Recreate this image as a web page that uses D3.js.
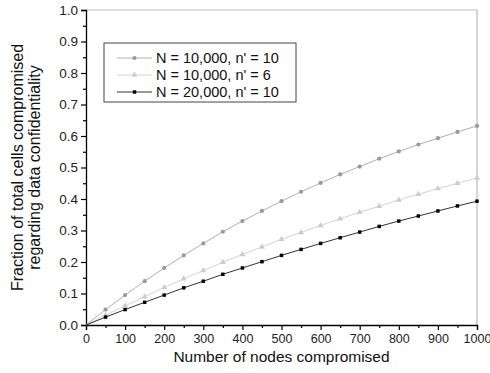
<!DOCTYPE html>
<html>
<head>
<meta charset="utf-8">
<script src="https://cdn.jsdelivr.net/npm/d3@7"></script>
<style>
  body { margin: 0; background: #fff; }
  svg { font-family: "Liberation Sans", Arial, sans-serif; }
</style>
</head>
<body>
<div id="chart"></div>
<script>
const nodes = [0, 50, 100, 150, 200, 250, 300, 350, 400, 450, 500, 550, 600, 650, 700, 750, 800, 850, 900, 950, 1000]
const seriesA = [0, 0.049, 0.095, 0.139, 0.181, 0.221, 0.259, 0.296, 0.330, 0.362, 0.393, 0.423, 0.451, 0.478, 0.503, 0.528, 0.551, 0.573, 0.593, 0.613, 0.632]
const seriesB = [0, 0.031, 0.061, 0.090, 0.119, 0.147, 0.173, 0.199, 0.224, 0.248, 0.272, 0.294, 0.316, 0.337, 0.358, 0.377, 0.397, 0.415, 0.433, 0.450, 0.467]
const seriesC = [0, 0.025, 0.049, 0.072, 0.095, 0.118, 0.139, 0.161, 0.181, 0.201, 0.221, 0.240, 0.259, 0.277, 0.295, 0.313, 0.330, 0.346, 0.362, 0.378, 0.393]
const labels = ["N = 10,000, n' = 10", "N = 10,000, n' = 6", "N = 20,000, n' = 10"]
const xTicks = [0, 100, 200, 300, 400, 500, 600, 700, 800, 900, 1000]
const yTicks = [0, 0.1, 0.2, 0.3, 0.4, 0.5, 0.6, 0.7, 0.8, 0.9, 1.0]

const W = 490, H = 373
const margin = { top: 10, right: 13, bottom: 48, left: 86 }
const width = W - margin.left - margin.right
const height = H - margin.top - margin.bottom

const svg = d3.select('#chart').append('svg')
    .attr('width', W)
    .attr('height', H)

const g = svg.append('g')
    .attr('transform', 'translate(' + margin.left + ',' + margin.top + ')')

const x = d3.scaleLinear().domain([0, 1000]).range([0, width])
const y = d3.scaleLinear().domain([0, 1]).range([height, 0])

// frame top/right
g.append('line').attr('x1', 0).attr('x2', width).attr('y1', 0).attr('y2', 0)
    .attr('stroke', '#bbb').attr('stroke-width', 1.2)
g.append('line').attr('x1', width).attr('x2', width).attr('y1', 0).attr('y2', height)
    .attr('stroke', '#bbb').attr('stroke-width', 1.2)

// minor ticks
const xMinor = d3.range(50, 1000, 100)
const yMinor = d3.range(0.05, 1, 0.1)

const xAxis = g.append('g')
    .attr('transform', 'translate(0,' + height + ')')
    .call(d3.axisBottom(x).tickValues(xTicks).tickFormat(d3.format('d')).tickSize(5).tickPadding(4))
g.append('g')
    .attr('transform', 'translate(0,' + height + ')')
    .call(d3.axisBottom(x).tickValues(xMinor).tickFormat('').tickSize(3))
    .select('.domain').remove()

const yAxis = g.append('g')
    .call(d3.axisLeft(y).tickValues(yTicks).tickFormat(d3.format('.1f')).tickSize(5).tickPadding(3))
g.append('g')
    .call(d3.axisLeft(y).tickValues(yMinor).tickFormat('').tickSize(3))
    .select('.domain').remove()

g.selectAll('.domain').attr('stroke', '#000').attr('stroke-width', 1.3)
g.selectAll('.tick line').attr('stroke', '#000').attr('stroke-width', 1.2)
g.selectAll('.tick text').attr('fill', '#222')
    .style('font-family', '"Liberation Sans", Arial, sans-serif')
xAxis.selectAll('.tick text').attr('font-size', 12.5)
yAxis.selectAll('.tick text').attr('font-size', 13.5)

const series = [
    { name: labels[0], values: seriesA, line: '#b0b0b0', fill: '#9a9a9a', shape: d3.symbolCircle, size: 14 },
    { name: labels[1], values: seriesB, line: '#d4d4d4', fill: '#cccccc', shape: d3.symbolTriangle, size: 16 },
    { name: labels[2], values: seriesC, line: '#333', fill: '#000', shape: d3.symbolSquare, size: 12 }
]

const line = d3.line()
    .x((d, i) => x(nodes[i]))
    .y(d => y(d))

series.forEach(s => {
    g.append('path')
        .datum(s.values)
        .attr('d', line)
        .attr('fill', 'none')
        .attr('stroke', s.line)
        .attr('stroke-width', 1)
    g.selectAll(null)
        .data(s.values.slice(1))
        .join('path')
        .attr('transform', (d, i) => 'translate(' + x(nodes[i + 1]) + ',' + y(d) + ')')
        .attr('d', d3.symbol().type(s.shape).size(s.size))
        .attr('fill', s.fill)
})

// legend
const legend = svg.append('g').attr('transform', 'translate(104,43)')
legend.append('rect')
    .attr('width', 192).attr('height', 59)
    .attr('fill', '#fff').attr('stroke', '#444').attr('stroke-width', 1)
series.forEach((s, i) => {
    const ly = 15 + i * 17
    legend.append('line').attr('x1', 13).attr('x2', 48).attr('y1', ly).attr('y2', ly)
        .attr('stroke', s.line).attr('stroke-width', 1)
    legend.append('path')
        .attr('transform', 'translate(30.5,' + ly + ')')
        .attr('d', d3.symbol().type(s.shape).size(s.size))
        .attr('fill', s.fill)
    legend.append('text')
        .attr('x', 52).attr('y', ly + 5)
        .attr('font-size', 14.5).attr('fill', '#111')
        .text(s.name)
})

// axis labels
svg.append('text')
    .attr('x', margin.left + width / 2)
    .attr('y', 362)
    .attr('text-anchor', 'middle')
    .attr('font-size', 15.5).attr('fill', '#111')
    .text('Number of nodes compromised')

const yl = svg.append('text')
    .attr('transform', 'translate(23,' + (margin.top + height / 2) + ') rotate(-90)')
    .attr('text-anchor', 'middle')
    .attr('font-size', 16).attr('fill', '#111')
yl.append('tspan').attr('x', 0).attr('dy', 0).text('Fraction of total cells compromised')
yl.append('tspan').attr('x', 0).attr('dy', 17).text('regarding data confidentiality')
</script>
</body>
</html>
